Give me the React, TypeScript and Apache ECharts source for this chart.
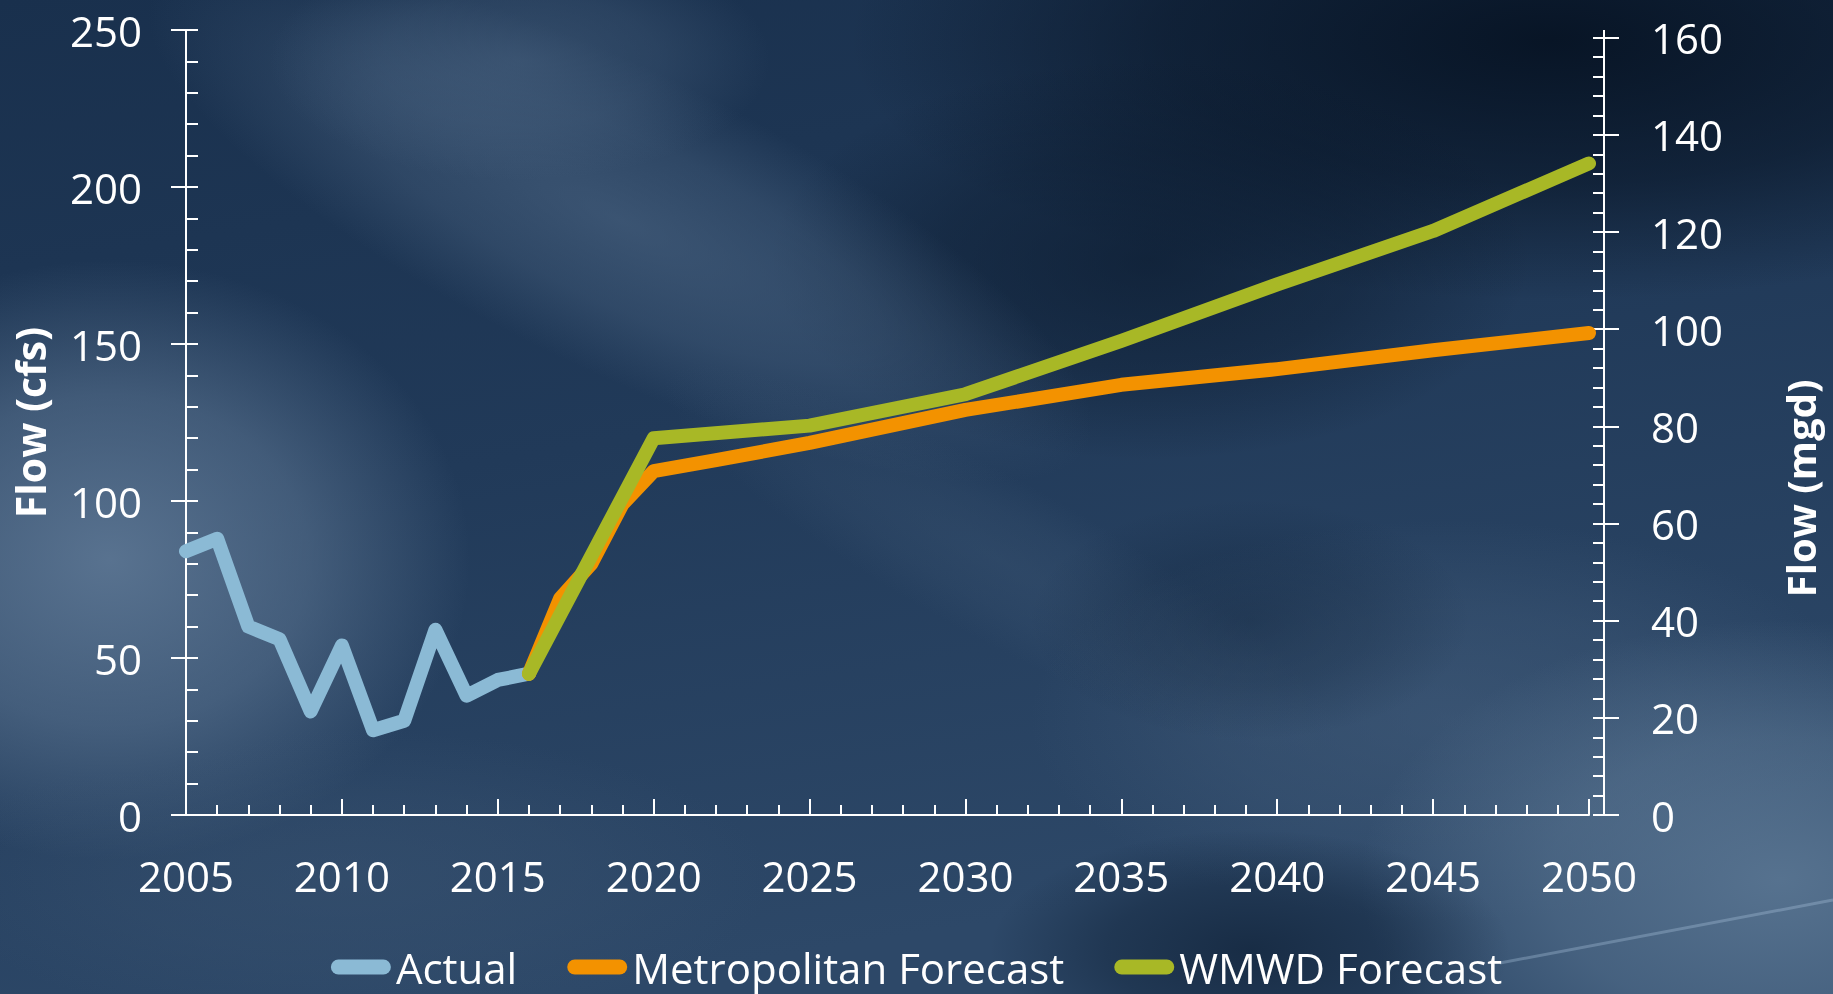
import React, { useEffect, useRef } from "react";
import * as echarts from "echarts";

// ---- data ----
const actualYears = [2005, 2006, 2007, 2008, 2009, 2010, 2011, 2012, 2013, 2014, 2015, 2016];
const actualFlow = [84, 88, 60, 56, 33, 54, 27, 30, 59, 38, 43, 45];
const metroYears = [2016, 2017, 2018, 2019, 2020, 2022, 2025, 2030, 2035, 2040, 2045, 2050];
const metroFlow = [45, 69, 80, 99, 109.5, 113, 118.5, 129, 137, 142, 148, 153.5];
const wmwdYears = [2016, 2020, 2025, 2030, 2035, 2040, 2045, 2050];
const wmwdFlow = [45, 120, 124, 134, 151, 169, 186, 207.5];

const seriesNames = ["Actual", "Metropolitan Forecast", "WMWD Forecast"];
const seriesColors = ["#8bbad5", "#f39200", "#a8b826"];

const cfsAxis = { min: 0, max: 250, interval: 50, title: "Flow (cfs)" };
const mgdAxis = { min: 0, max: 160, interval: 20, title: "Flow (mgd)" };
const yearAxis = { min: 2005, max: 2050, interval: 5 };
const MGD_PER_CFS = 0.646317;

// ---- layout ----
const W = 1833;
const H = 994;
const G_LEFT = 186;
const G_RIGHT = 244;
const G_TOP = 30;
const G_BOTTOM = 179;
const PLOT_H = H - G_TOP - G_BOTTOM;
const MGD_TOP = H - G_BOTTOM - (PLOT_H * mgdAxis.max) / (cfsAxis.max * MGD_PER_CFS);
const RIGHT_OFFSET = 15;
const FONT = "'Open Sans', 'Liberation Sans', sans-serif";

function blob(cx: number, cy: number, rx: number, ry: number, rgb: string, a: number, rot = 0) {
  return {
    type: "ellipse",
    x: cx,
    y: cy,
    rotation: rot,
    z: -50,
    silent: true,
    shape: { cx: 0, cy: 0, rx, ry },
    style: {
      fill: {
        type: "radial",
        x: 0.5,
        y: 0.5,
        r: 0.5,
        colorStops: [
          { offset: 0, color: `rgba(${rgb},${a})` },
          { offset: 0.55, color: `rgba(${rgb},${a * 0.6})` },
          { offset: 1, color: `rgba(${rgb},0)` },
        ],
      },
    },
  };
}

export default function App() {
  const ref = useRef<HTMLDivElement>(null);

  useEffect(() => {
    if (!ref.current) return;
    const chart = echarts.init(ref.current, undefined, { renderer: "svg" });

    const axisLine = { show: true, lineStyle: { color: "#ffffff", width: 2 } };
    const labelStyle = { color: "#ffffff", fontSize: 42, lineHeight: 44, fontFamily: FONT };

    const mk = (years: number[], vals: number[]) => years.map((y, i) => [y, vals[i]]);
    const seriesData = [mk(actualYears, actualFlow), mk(metroYears, metroFlow), mk(wmwdYears, wmwdFlow)];

    const pill = "path://M7.5,0L52.5,0A7.5,7.5,0,0,1,52.5,15L7.5,15A7.5,7.5,0,0,1,7.5,0Z";

    const option: any = {
      animation: false,
      textStyle: { fontFamily: FONT, color: "#ffffff" },
      graphic: [
        {
          type: "rect",
          z: -100,
          silent: true,
          shape: { x: 0, y: 0, width: W, height: H },
          style: {
            fill: {
              type: "linear",
              x: 0,
              y: 0,
              x2: 0.3,
              y2: 1,
              colorStops: [
                { offset: 0, color: "#19304d" },
                { offset: 0.5, color: "#213a59" },
                { offset: 1, color: "#2d4868" },
              ],
            },
          },
        },
        blob(1550, 40, 700, 260, "6,18,34", 0.92),
        blob(1150, 260, 380, 200, "8,22,40", 0.6),
        blob(110, 560, 360, 300, "98,124,153", 0.85),
        blob(620, 220, 520, 150, "78,104,134", 0.6, -0.45),
        blob(520, 60, 250, 120, "78,104,134", 0.5),
        blob(1000, 560, 380, 80, "62,88,118", 0.35, -0.5),
        blob(1450, 720, 420, 200, "72,98,128", 0.5),
        blob(1780, 880, 420, 260, "100,128,156", 0.75),
        blob(1250, 950, 260, 120, "10,26,46", 0.6),
        blob(1250, 620, 220, 120, "12,30,52", 0.35),
        blob(350, 880, 420, 150, "60,86,116", 0.45),
        {
          type: "line",
          z: -40,
          silent: true,
          shape: { x1: 1500, y1: 963, x2: W, y2: 900 },
          style: { stroke: "rgba(170,195,220,0.35)", lineWidth: 3 },
        },
        {
          type: "line",
          z: 5,
          silent: true,
          shape: { x1: W - G_RIGHT + RIGHT_OFFSET, y1: G_TOP, x2: W - G_RIGHT + RIGHT_OFFSET, y2: MGD_TOP },
          style: { stroke: "#ffffff", lineWidth: 2 },
        },
      ],
      grid: [
        { left: G_LEFT, right: G_RIGHT, top: G_TOP, bottom: G_BOTTOM, containLabel: false },
        { left: G_LEFT, right: G_RIGHT, top: MGD_TOP, bottom: G_BOTTOM, containLabel: false },
      ],
      legend: {
        data: seriesNames,
        left: "center",
        top: 941,
        itemWidth: 60,
        itemHeight: 15,
        itemGap: 50,
        icon: pill,
        textStyle: { color: "#ffffff", fontSize: 42, lineHeight: 42, fontFamily: FONT },
      },
      xAxis: [
        {
          type: "value",
          gridIndex: 0,
          min: yearAxis.min,
          max: yearAxis.max,
          interval: yearAxis.interval,
          axisLine: axisLine,
          axisTick: { show: true, inside: true, length: 10, lineStyle: { color: "#fff", width: 2 } },
          minorTick: { show: true, splitNumber: 5, length: 10, lineStyle: { color: "#fff", width: 2 } },
          axisLabel: { ...labelStyle, margin: 38, formatter: (v: number) => String(v) },
          splitLine: { show: false },
        },
        {
          type: "value",
          gridIndex: 0,
          min: yearAxis.min,
          max: yearAxis.max,
          interval: yearAxis.interval,
          axisLine: { show: false },
          axisTick: { show: true, inside: false, length: 16, lineStyle: { color: "#fff", width: 2 } },
          axisLabel: { show: false },
          splitLine: { show: false },
        },
        { type: "value", gridIndex: 1, min: yearAxis.min, max: yearAxis.max, show: false },
      ],
      yAxis: [
        {
          type: "value",
          gridIndex: 0,
          position: "left",
          min: cfsAxis.min,
          max: cfsAxis.max,
          interval: cfsAxis.interval,
          axisLine: axisLine,
          axisTick: { show: true, inside: true, length: 12, lineStyle: { color: "#fff", width: 2 } },
          minorTick: { show: true, splitNumber: 5, length: 12, lineStyle: { color: "#fff", width: 2 } },
          axisLabel: { ...labelStyle, margin: 44 },
          splitLine: { show: false },
          name: cfsAxis.title,
          nameLocation: "middle",
          nameRotate: 90,
          nameGap: 136,
          nameTextStyle: { color: "#fff", fontSize: 41, fontWeight: "bold", fontFamily: FONT },
        },
        {
          type: "value",
          gridIndex: 0,
          position: "left",
          min: cfsAxis.min,
          max: cfsAxis.max,
          interval: cfsAxis.interval,
          axisLine: { show: false },
          axisTick: { show: true, inside: false, length: 15, lineStyle: { color: "#fff", width: 2 } },
          axisLabel: { show: false },
          splitLine: { show: false },
        },
        {
          type: "value",
          gridIndex: 1,
          position: "right",
          offset: RIGHT_OFFSET,
          min: mgdAxis.min,
          max: mgdAxis.max,
          interval: mgdAxis.interval,
          axisLine: axisLine,
          axisTick: { show: true, inside: true, length: 11, lineStyle: { color: "#fff", width: 2 } },
          minorTick: { show: true, splitNumber: 5, length: 11, lineStyle: { color: "#fff", width: 2 } },
          axisLabel: { ...labelStyle, margin: 47 },
          splitLine: { show: false },
          name: mgdAxis.title,
          nameLocation: "middle",
          nameRotate: 90,
          nameGap: 176,
          nameTextStyle: {
            color: "#fff",
            fontSize: 40,
            fontWeight: "bold",
            fontFamily: FONT,
            padding: [0, 124, 0, 0],
          },
        },
        {
          type: "value",
          gridIndex: 1,
          position: "right",
          offset: RIGHT_OFFSET,
          min: mgdAxis.min,
          max: mgdAxis.max,
          interval: mgdAxis.interval,
          axisLine: { show: false },
          axisTick: { show: true, inside: false, length: 15, lineStyle: { color: "#fff", width: 2 } },
          axisLabel: { show: false },
          splitLine: { show: false },
        },
      ],
      series: seriesNames.map((name, i) => ({
        name,
        type: "line",
        xAxisIndex: 0,
        yAxisIndex: 0,
        data: seriesData[i],
        symbol: "none",
        showSymbol: false,
        color: seriesColors[i],
        itemStyle: { color: seriesColors[i] },
        lineStyle: { color: seriesColors[i], width: 14, cap: "round", join: "round" },
        z: 3 + i,
      })),
    };

    chart.setOption(option);
    return () => chart.dispose();
  }, []);

  return (
    <div
      ref={ref}
      style={{ position: "fixed", left: 0, top: 0, width: W, height: H, overflow: "hidden" }}
    />
  );
}
